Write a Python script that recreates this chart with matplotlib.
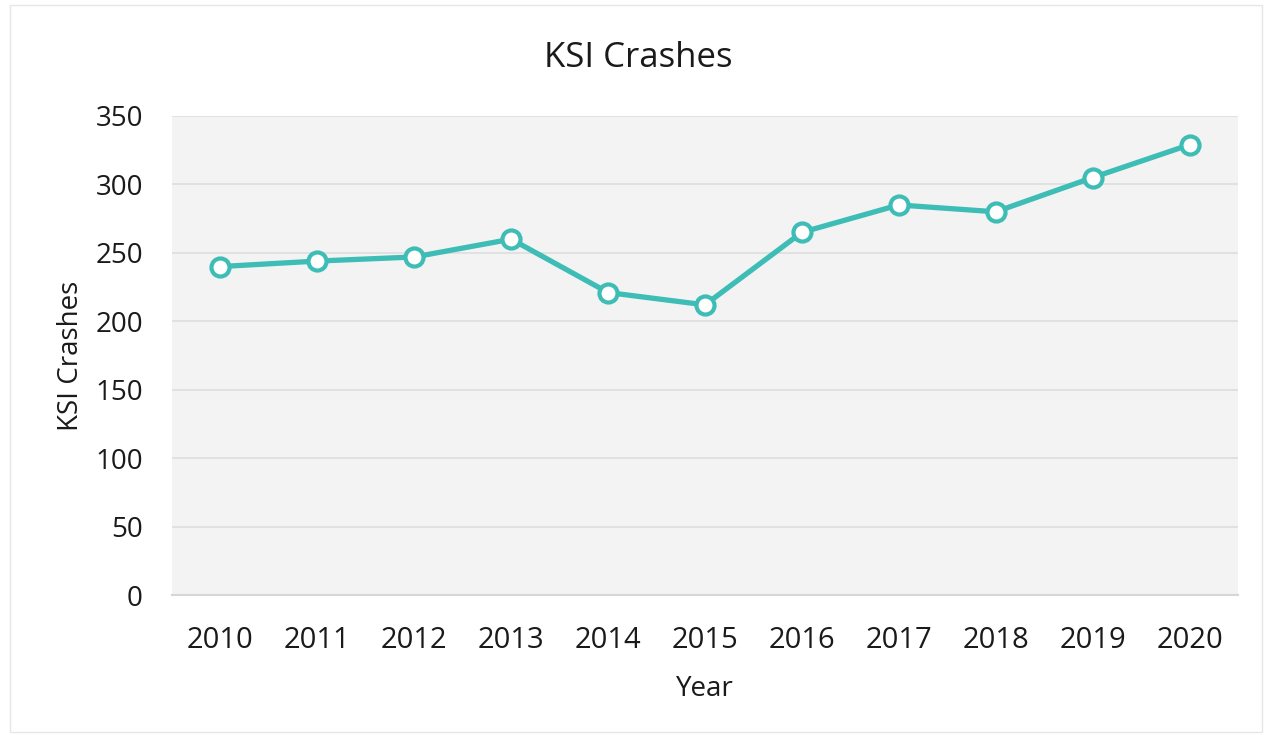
import numpy as np
import matplotlib.pyplot as plt
from matplotlib.patches import Rectangle

# --- data ---
years = ['2010', '2011', '2012', '2013', '2014', '2015', '2016', '2017', '2018', '2019', '2020']
ksi_crashes = [240, 244, 247, 260, 221, 212, 265, 285, 280, 305, 329]

TEAL = '#3dbdb5'
plt.rcParams['font.family'] = ['Open Sans', 'DejaVu Sans']

fig = plt.figure(figsize=(12.65, 7.35), dpi=100)
ax = fig.add_axes([172 / 1265, 1 - 595 / 735, (1238 - 172) / 1265, (595 - 116) / 735])

# thin border around the whole chart
fig.patches.append(Rectangle((10 / 1265, 3 / 735), 1252 / 1265, 727 / 735,
                             transform=fig.transFigure, fill=False,
                             edgecolor='#e6e6e6', lw=1))

ax.set_facecolor('#f3f3f3')
x = np.arange(len(years))
ax.plot(x, ksi_crashes, color=TEAL, lw=3.8, marker='o', ms=13,
        mfc='white', mec=TEAL, mew=3, zorder=3)

ax.set_xlim(-0.5, len(years) - 0.5)
ax.set_ylim(0, 350)
ax.set_yticks(np.arange(0, 351, 50))
ax.set_xticks(x)
ax.set_xticklabels(years)
ax.grid(axis='y', color='#dedede', lw=1.2)
ax.set_axisbelow(True)

for s in ['top', 'right', 'left']:
    ax.spines[s].set_visible(False)
ax.spines['bottom'].set_color('#d6d6d6')
ax.spines['bottom'].set_linewidth(1.5)
ax.tick_params(length=0, colors='#1a1a1a')
ax.tick_params(axis='x', labelsize=21, pad=22)
ax.tick_params(axis='y', labelsize=20, pad=21)

fig.text(638 / 1265, 1 - 58 / 735, 'KSI Crashes', fontsize=25, color='#1a1a1a',
         ha='center', va='center')
ax.set_xlabel('Year', fontsize=20, labelpad=15, color='#1a1a1a')
ax.set_ylabel('KSI Crashes', fontsize=20, labelpad=7, color='#1a1a1a')

fig.savefig('out.png', dpi=100)
